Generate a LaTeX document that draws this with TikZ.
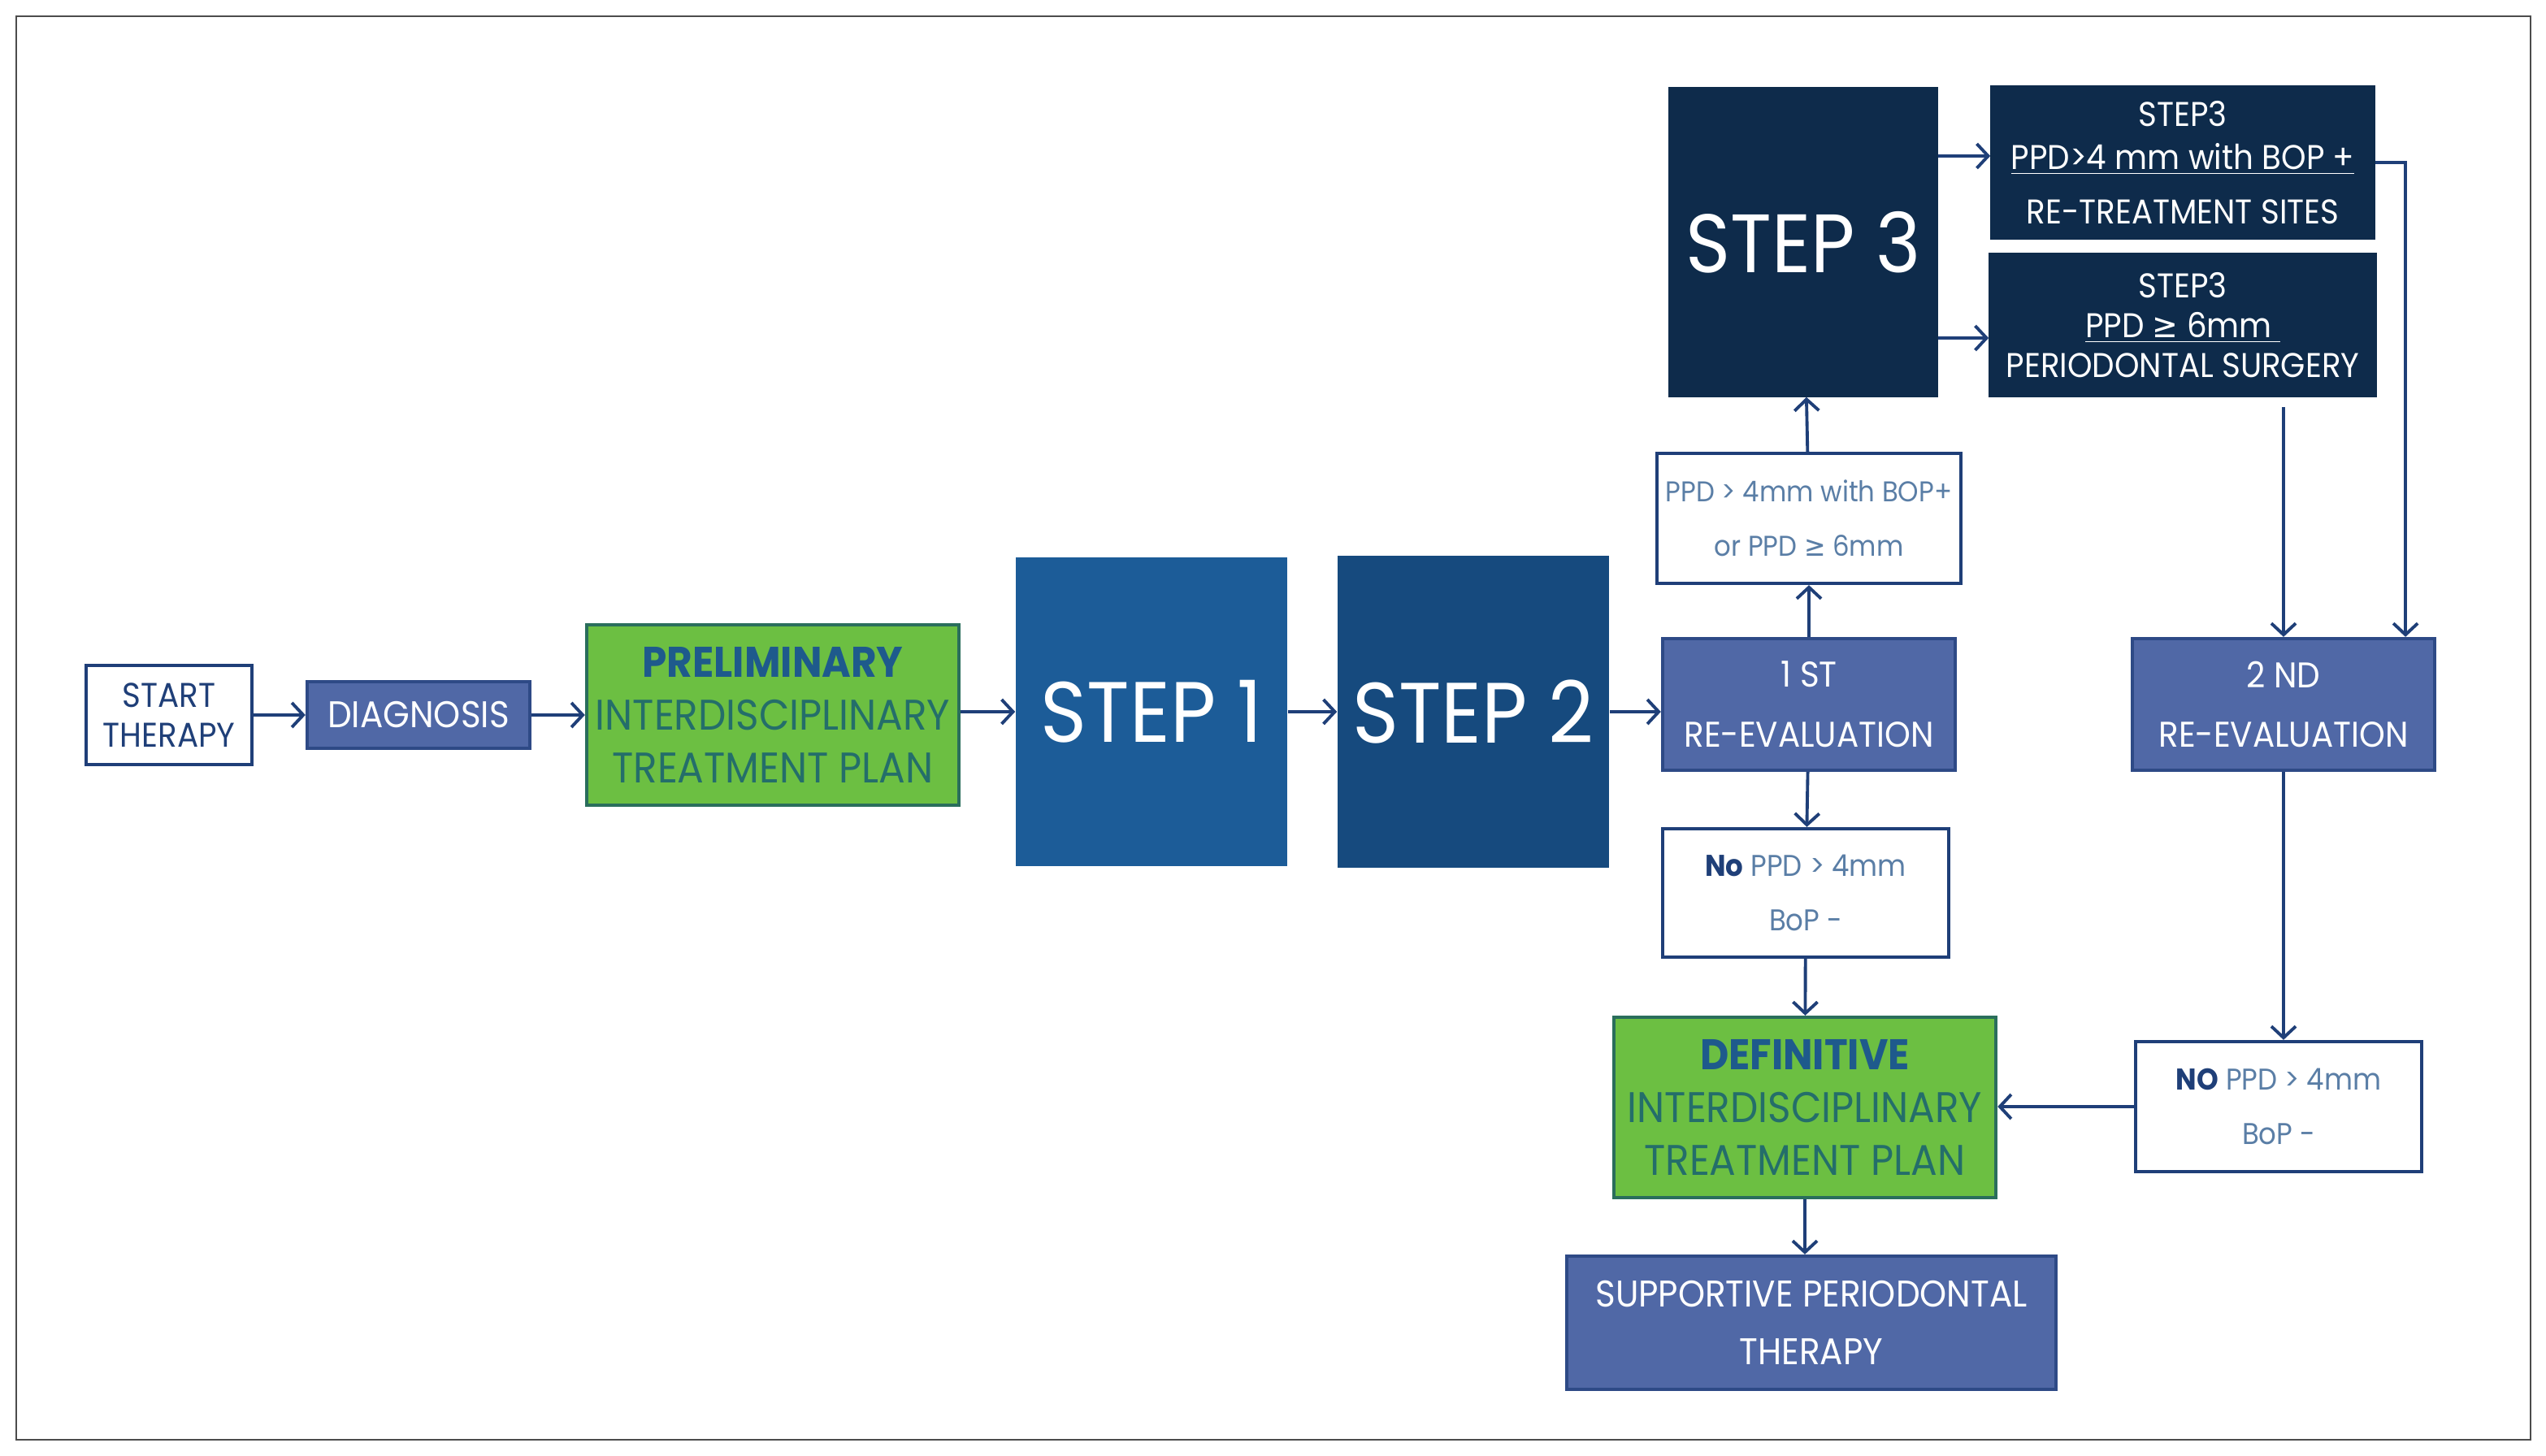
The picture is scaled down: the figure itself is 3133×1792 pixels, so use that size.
\documentclass[tikz,border=0pt]{standalone}
\usepackage{fontspec}
\setmainfont{Poppins}[FakeStretch=0.92]
\newfontfamily\symfont{DejaVu Sans}[FakeStretch=0.9]
\usetikzlibrary{arrows.meta}
\definecolor{navy}{HTML}{1F3F78}
\definecolor{slate}{HTML}{5068A6}
\definecolor{slateline}{HTML}{2E4A86}
\definecolor{leaf}{HTML}{6CBF42}
\definecolor{leafline}{HTML}{2A6E5C}
\definecolor{leaftext}{HTML}{246E6A}
\definecolor{leafhead}{HTML}{1E5A8C}
\definecolor{stepone}{HTML}{1C5C98}
\definecolor{steptwo}{HTML}{164A7E}
\definecolor{stepthree}{HTML}{0E2B4B}
\definecolor{greytext}{HTML}{5A7EA6}
\newcommand{\gesym}{{\symfont ≥}}
\begin{document}
\begin{tikzpicture}[x=0.01cm,y=-0.01cm,
    every node/.style={align=center,inner sep=0pt},
    conn/.style={draw=navy,line width=1.1pt,-{Straight Barb[length=1.4mm,width=3mm]}},
    whitebox/.style={draw=navy,line width=1.2pt,fill=white,text=greytext},
    slatebox/.style={draw=slateline,line width=1.2pt,fill=slate,text=white},
    leafbox/.style={draw=leafline,line width=1.2pt,fill=leaf,text=leaftext},
    bigstep/.style={text=white,font={\fontsize{30}{30}\selectfont}},
    darkbox/.style={draw=stepthree,fill=stepthree,text=white}]
  \useasboundingbox (0,0) rectangle (3133,1792);
  \draw[gray!60!black,line width=0.7pt] (20,20) rectangle (3114,1772);
  % main row
  \node[whitebox,text=navy,minimum width=2.04cm,minimum height=1.22cm,
    font={\fontsize{12}{14}\selectfont}] (start) at (208,880) {START\\THERAPY};
  \node[slatebox,minimum width=2.74cm,minimum height=0.82cm,
    font={\fontsize{13}{15}\selectfont}] (diag) at (515,880) {DIAGNOSIS};
  \node[leafbox,minimum width=4.58cm,minimum height=2.22cm,
    font={\fontsize{15}{18.5}\selectfont}] (prelim) at (951,880)
    {\textcolor{leafhead}{\bfseries PRELIMINARY}\\INTERDISCIPLINARY\\TREATMENT PLAN};
  \node[bigstep,fill=stepone,minimum width=3.34cm,minimum height=3.8cm] (step1) at (1417,876) {STEP 1};
  \node[bigstep,fill=steptwo,minimum width=3.34cm,minimum height=3.84cm] (step2) at (1813,876) {STEP 2};
  % first re-evaluation column
  \node[slatebox,minimum width=3.6cm,minimum height=1.62cm,
    font={\fontsize{12.5}{21}\selectfont}] (eval1) at (2226,867) {1 ST\\RE-EVALUATION};
  \node[whitebox,minimum width=3.74cm,minimum height=1.6cm,
    font={\fontsize{10}{19}\selectfont}] (ppd) at (2226,638) {PPD > 4mm with BOP+\\or PPD \gesym{} 6mm};
  \node[bigstep,darkbox,minimum width=3.3cm,minimum height=3.8cm,
    font={\fontsize{29}{29}\selectfont}] (step3) at (2219,298) {STEP 3};
  \node[darkbox,minimum width=4.72cm,minimum height=1.88cm,
    font={\fontsize{12}{15}\selectfont}] (s3a) at (2686,200)
    {STEP3\\\underline{PPD>4 mm with BOP +}\\[4pt]RE-TREATMENT SITES};
  \node[darkbox,minimum width=4.76cm,minimum height=1.76cm,
    font={\fontsize{12}{14}\selectfont}] (s3b) at (2686,400)
    {STEP3\\\underline{PPD \gesym{} 6mm\ }\\PERIODONTAL SURGERY};
  \node[whitebox,minimum width=3.52cm,minimum height=1.58cm,
    font={\fontsize{10.5}{19}\selectfont}] (nopp1) at (2222,1099)
    {\textcolor{navy}{\bfseries No} PPD > 4mm\\BoP -};
  \node[leafbox,minimum width=4.7cm,minimum height=2.22cm,
    font={\fontsize{15}{18.5}\selectfont}] (defin) at (2221,1363)
    {\textcolor{leafhead}{\bfseries DEFINITIVE}\\INTERDISCIPLINARY\\TREATMENT PLAN};
  \node[slatebox,minimum width=6.02cm,minimum height=1.64cm,
    font={\fontsize{13}{20}\selectfont}] (spt) at (2229,1628) {SUPPORTIVE PERIODONTAL\\THERAPY};
  % second re-evaluation column
  \node[slatebox,minimum width=3.72cm,minimum height=1.62cm,
    font={\fontsize{12.5}{21}\selectfont}] (eval2) at (2810,867) {2 ND\\RE-EVALUATION};
  \node[whitebox,minimum width=3.52cm,minimum height=1.6cm,
    font={\fontsize{10.5}{19}\selectfont}] (nopp2) at (2804,1362)
    {\textcolor{navy}{\bfseries NO} PPD > 4mm\\BoP -};
  % connectors
  \draw[conn] (start) -- (diag);
  \draw[conn] (diag) -- (prelim);
  \draw[conn] (prelim.east |- step1) -- (step1.west);
  \draw[conn] (step1) -- (step2);
  \draw[conn] (step2.east) -- (step2.east -| eval1.west);
  \draw[conn] (eval1) -- (ppd);
  \draw[conn] (ppd) -- (step3);
  \draw[conn] ([yshift=0.08cm]step3.east |- s3a.west) -- ([yshift=0.08cm]s3a.west);
  \draw[conn] ([yshift=-0.16cm]step3.east |- s3b.west) -- ([yshift=-0.16cm]s3b.west);
  \draw[conn,shorten <=0.12cm] (eval2.north |- s3b.south) -- (eval2.north);
  \draw[conn] (s3a.east) -| ([xshift=1.5cm]eval2.north);
  \draw[conn] (eval1) -- (nopp1);
  \draw[conn] (nopp1) -- (defin);
  \draw[conn] (eval2.south) -- (eval2.south |- nopp2.north);
  \draw[conn] (nopp2.west) -- (nopp2.west -| defin.east);
  \draw[conn] (defin.south) -- (defin.south |- spt.north);
\end{tikzpicture}
\end{document}
